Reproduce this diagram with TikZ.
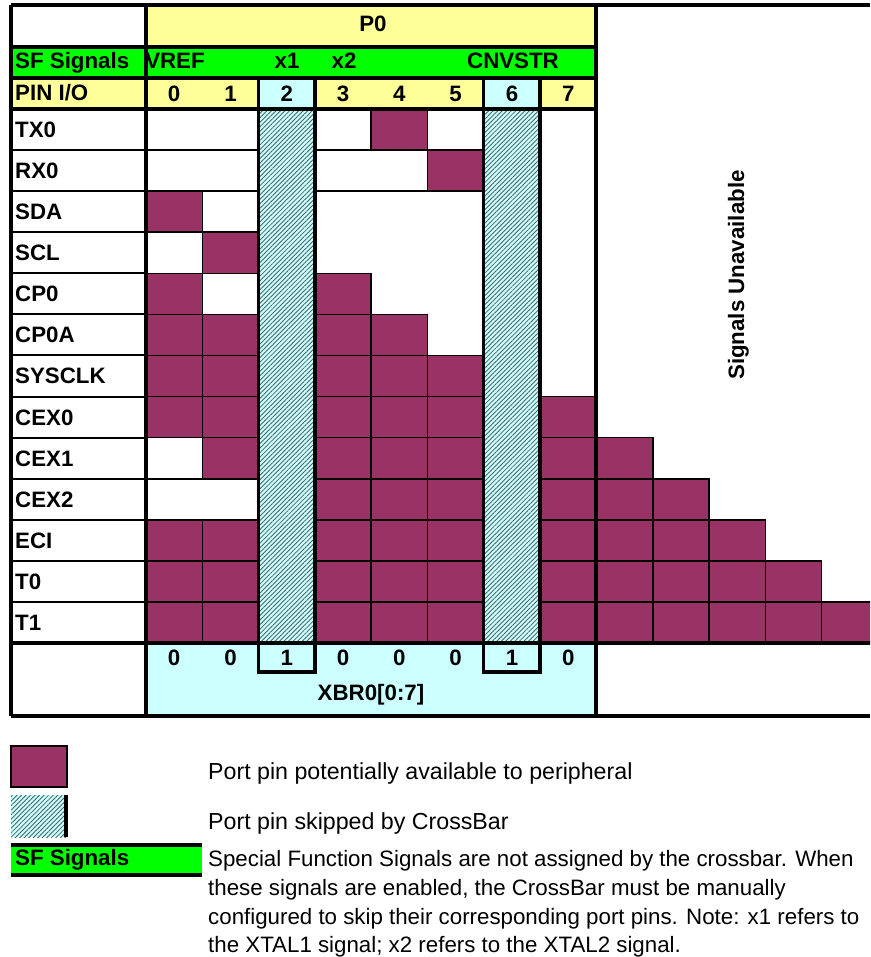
\documentclass[tikz,border=0pt]{standalone}
\usepackage{fontspec}
\setmainfont{Liberation Sans}
\usetikzlibrary{patterns.meta}
\definecolor{pplum}{RGB}{153,51,102}
\definecolor{pyel}{RGB}{255,255,153}
\definecolor{pgreen}{RGB}{0,255,0}
\definecolor{pcyan}{RGB}{204,255,255}
\definecolor{hatchc}{RGB}{70,100,100}
\tikzset{
  heavyrule/.style={line width=3.3pt},
  lightrule/.style={line width=2pt},
  purplecell/.style={fill=pplum, draw=black, line width=1.6pt},
  whitecell/.style={draw=black, line width=1.6pt},
  hatchfill/.style={pattern={Lines[angle=45,distance=3.2pt,line width=0.85pt]}, pattern color=hatchc},
  hdr/.style={font=\bfseries\fontsize{22.3}{26}\selectfont, inner sep=0pt},
  legendtxt/.style={font=\fontsize{23.2}{27}\selectfont, inner sep=0pt, anchor=base west},
  paratxt/.style={font=\fontsize{22.3}{26}\selectfont, inner sep=0pt, anchor=base west},
}
\begin{document}
\begin{tikzpicture}[x=1pt,y=-1pt]
\useasboundingbox (0,0) rectangle (870,957);
\clip (0,0) rectangle (870,957);
\fill[white] (0,0) rectangle (870,957);
% header fills
\fill[pyel] (146,5) rectangle (596,47);
\fill[pgreen] (11,47) rectangle (596,78);
\fill[pyel] (11,78) rectangle (596,109);
\fill[pcyan] (258.6,78) rectangle (314.9,109);
\fill[pcyan] (483.8,78) rectangle (540.1,109);
% hatched columns
\foreach \c in {2,6} {
  \fill[pcyan] ({146+56.3*\c},109) rectangle ++(56.3,534);
  \fill[hatchfill] ({146+56.3*\c},109) rectangle ++(56.3,534);
}
% white bordered cells
\foreach \c/\r/\w in {0/0/2,3/0/1,5/0/1,0/1/2,3/1/2,1/2/1,0/3/1,1/4/1,0/8/1,0/9/2} {
  \path[whitecell] ({146+56.3*\c},{109+41.08*\r}) rectangle ++({56.3*\w},41.08);
}
% purple cells
\foreach \r/\cols in {0/{4},1/{5},2/{0},3/{1},4/{0,3},5/{0,1,3,4},6/{0,1,3,4,5},7/{0,1,3,4,5,7},8/{1,3,4,5,7,8},9/{3,4,5,7,8,9},10/{0,1,3,4,5,7,8,9,10},11/{0,1,3,4,5,7,8,9,10,11},12/{0,1,3,4,5,7,8,9,10,11,12}} {
  \foreach \c in \cols {
    \path[purplecell] ({146+56.3*\c},{109+41.08*\r}) rectangle ++(56.3,41.08);
  }
}
% bottom register area
\fill[pcyan] (146,643) rectangle (596,716);
% label column row rules
\foreach \k in {1,...,12} {
  \draw[lightrule] (11,{109+41.08*\k}) -- (146,{109+41.08*\k});
}
% heavy rules
\draw[heavyrule] (11,5) -- (870,5);
\draw[heavyrule] (11,47) -- (596,47);
\draw[heavyrule] (11,78) -- (596,78);
\draw[heavyrule] (11,109) -- (596,109);
\draw[heavyrule] (11,643) -- (870,643);
\draw[heavyrule] (11,716) -- (870,716);
\draw[heavyrule] (11,5) -- (11,716);
\draw[heavyrule] (146,5) -- (146,716);
\draw[heavyrule] (596,5) -- (596,716);
\draw[heavyrule] (258.6,78) -- (258.6,672) -- (314.9,672) -- (314.9,78);
\draw[heavyrule] (483.8,78) -- (483.8,672) -- (540.1,672) -- (540.1,78);
% texts
\node[hdr, anchor=base] (p0) at (373,31.5) {P0};
\node[hdr, anchor=base west] (sfsig) at (15,68.5) {SF Signals};
\node[hdr, anchor=base] (vref) at (175,68.5) {VREF};
\node[hdr, anchor=base] (xone) at (287,68.5) {x1};
\node[hdr, anchor=base] (xtwo) at (344,68.5) {x2};
\node[hdr, anchor=base] (cnvstr) at (513,68.5) {CNVSTR};
\draw[heavyrule] (146,47) -- (146,78);
\node[hdr, anchor=base west] (pinio) at (15,100.5) {PIN I/O};
\foreach \d in {0,...,7} {
  \node[hdr, anchor=base] (pin\d) at ({146+56.3*(\d+0.5)},101.5) {\d};
}
\foreach \name [count=\i from 0] in {TX0,RX0,SDA,SCL,CP0,CP0A,SYSCLK,CEX0,CEX1,CEX2,ECI,T0,T1} {
  \node[hdr, anchor=base west] (lab\i) at (15,{109+41.08*\i+28.5}) {\name};
}
\foreach \b [count=\i from 0] in {0,0,1,0,0,0,1,0} {
  \node[hdr, anchor=base] (bit\i) at ({146+56.3*(\i+0.5)},665) {\b};
}
\node[hdr, anchor=base] (xbr) at (371,700) {XBR0[0:7]};
\node[hdr, anchor=base, rotate=90] (unavail) at (744,275) {Signals Unavailable};
% legend
\path[purplecell] (11,746) rectangle (67,787);
\fill[pcyan] (11,795) rectangle (66,837);
\fill[hatchfill] (11,795) rectangle (66,837);
\draw[line width=3.5pt] (66,795) -- (66,837);
\fill[pgreen] (11,845) rectangle (202,875);
\draw[heavyrule] (11,845) -- (202,845);
\draw[heavyrule] (11,875) -- (202,875);
\node[hdr, anchor=base west] (sflegend) at (15,865) {SF Signals};
\node[legendtxt] (leg1) at (208,779) {Port pin potentially available to peripheral};
\node[legendtxt] (leg2) at (208,829) {Port pin skipped by CrossBar};
\node[paratxt] (par1) at (208,866) {Special Function Signals are not assigned by the crossbar. When};
\node[paratxt] (par2) at (208,895) {these signals are enabled, the CrossBar must be manually};
\node[paratxt] (par3) at (208,924) {configured to skip their corresponding port pins. Note: x1 refers to};
\node[paratxt] (par4) at (208,952) {the XTAL1 signal; x2 refers to the XTAL2 signal.};
\end{tikzpicture}
\end{document}
